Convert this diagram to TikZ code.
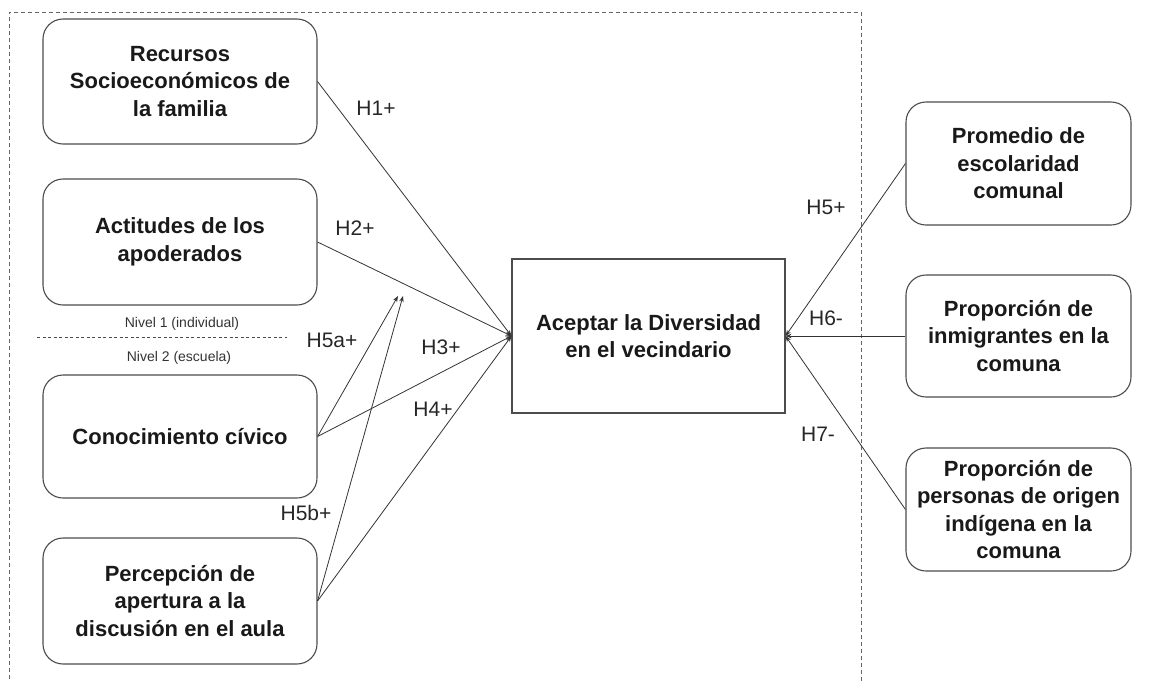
\documentclass[tikz,border=0pt]{standalone}
\usepackage{fontspec}
\setmainfont{Liberation Sans}
\usetikzlibrary{arrows.meta}
\begin{document}
\begin{tikzpicture}[x=1pt,y=-1pt,
  box/.style={draw=black!70, line width=1.1pt, rounded corners=20pt, align=center,
    font=\fontsize{22}{27.5}\selectfont\bfseries, text=black!90, inner sep=0pt},
  sqbox/.style={draw=black!70, line width=1.1pt, align=center,
    font=\fontsize{22}{27.5}\selectfont\bfseries, text=black!90, inner sep=0pt},
  conn/.style={draw=black!80, line width=0.8pt, -{Stealth[length=6pt,width=4.5pt]}},
  lbl/.style={font=\fontsize{21}{24}\selectfont, text=black!85, inner sep=0pt},
  small/.style={font=\fontsize{14}{16}\selectfont, text=black!80, inner sep=0pt},
  frame/.style={draw=black!60, line width=0.9pt, dash pattern=on 4pt off 3pt}]
\useasboundingbox (0,0) rectangle (1159,681);
\draw[frame] (9,700) -- (9,12) -- (861,12) -- (861,700);

\node[box, minimum width=274pt, minimum height=125pt] (b1) at (180,81.5) {Recursos\\Socioeconómicos de\\la familia};
\node[box, minimum width=274pt, minimum height=126pt] (b2) at (180,242) {Actitudes de los\\apoderados};
\node[box, minimum width=274pt, minimum height=123pt] (b3) at (180,436.5) {Conocimiento cívico};
\node[box, minimum width=274pt, minimum height=126pt] (b4) at (180,601) {Percepción de\\apertura a la\\discusión en el aula};

\node[sqbox, minimum width=273pt, minimum height=154pt] (c) at (648.5,336) {Aceptar la Diversidad\\en el vecindario};

\node[box, minimum width=225pt, minimum height=123pt] (r1) at (1018.5,163.5) {Promedio de\\escolaridad\\comunal};
\node[box, minimum width=225pt, minimum height=122pt] (r2) at (1018.5,336) {Proporción de\\inmigrantes en la\\comuna};
\node[box, minimum width=225pt, minimum height=123pt] (r3) at (1018.5,509.5) {Proporción de\\personas de origen\\indígena en la\\comuna};

\coordinate (n1) at (37,337);
\coordinate (n2) at (287,337);
\draw[draw=black!70, line width=0.8pt, dash pattern=on 3pt off 2.5pt] (n1) -- (n2);
\node[small] (niv1) at (182,324) {Nivel 1 (individual)};
\node[small] (niv2) at (179,358) {Nivel 2 (escuela)};

\coordinate (t5a) at (398,296);
\coordinate (t5b) at (403,296);

\draw[conn] (b1.east) -- (c.west);
\draw[conn] (b2.east) -- (c.west);
\draw[conn] (b3.east) -- (c.west);
\draw[conn] (b4.east) -- (c.west);
\draw[conn] (b3.east) -- (t5a);
\draw[conn] (b4.east) -- (t5b);
\draw[conn] (r1.west) -- (c.east);
\draw[conn] (r2.west) -- (c.east);
\draw[conn] (r3.west) -- (c.east);

\node[lbl] (h1) at (376,108) {H1+};
\node[lbl] (h2) at (355,228) {H2+};
\node[lbl] (h5a) at (332,340) {H5a+};
\node[lbl] (h3) at (441,347) {H3+};
\node[lbl] (h4) at (433,409) {H4+};
\node[lbl] (h5b) at (306,513) {H5b+};
\node[lbl] (h5) at (826,207) {H5+};
\node[lbl] (h6) at (826,318) {H6-};
\node[lbl] (h7) at (818,434) {H7-};
\end{tikzpicture}
\end{document}
